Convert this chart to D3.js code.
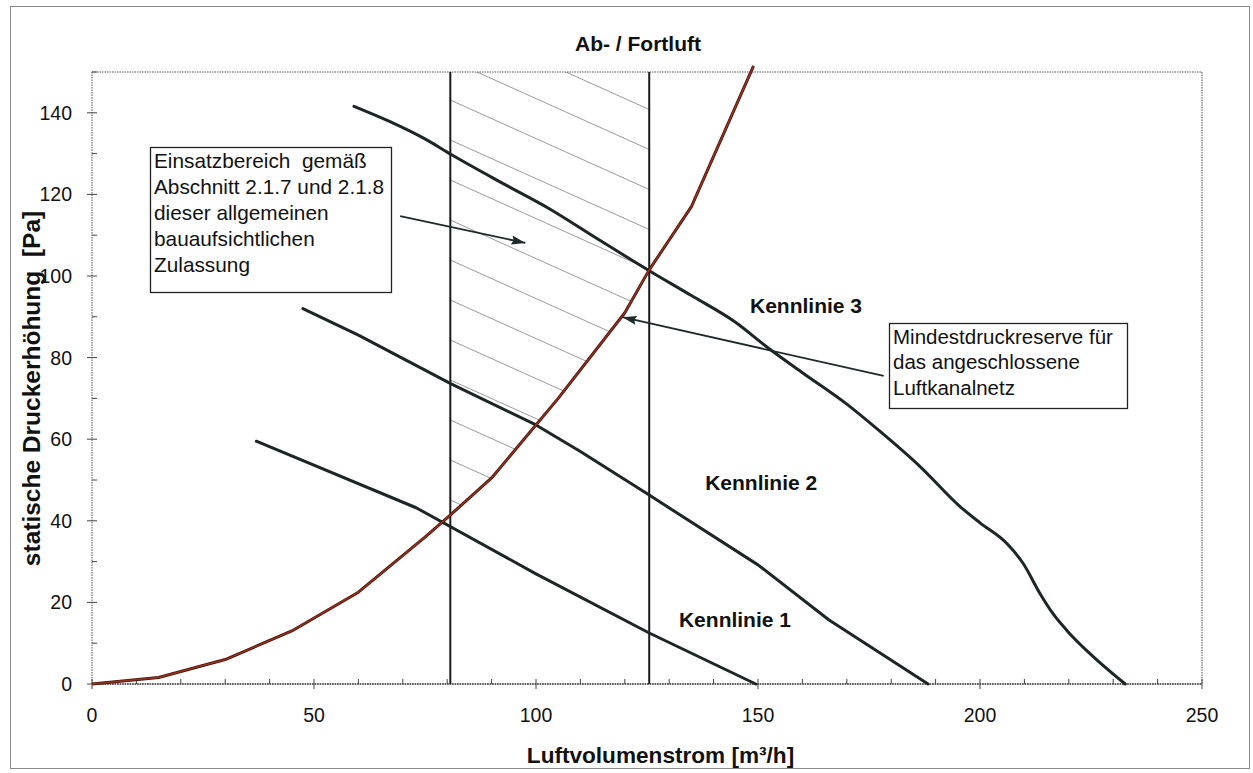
<!DOCTYPE html>
<html>
<head>
<meta charset="utf-8">
<script src="https://cdn.jsdelivr.net/npm/d3@7"></script>
<style>
  html, body { margin: 0; padding: 0; background: #fff; }
  svg { display: block; font-family: "Liberation Sans", Arial, sans-serif; }
</style>
</head>
<body>
<svg id="chart" width="1253" height="773"></svg>
<script>
// ---------- DATA ----------
const title = "Ab- / Fortluft";
const xLabel = "Luftvolumenstrom [m³/h]";
const yLabel = "statische Druckerhöhung  [Pa]";
const xTicks = [0, 50, 100, 150, 200, 250];
const yTicks = [0, 20, 40, 60, 80, 100, 120, 140];

// Anlagenkennlinie (system curve, red)
const systemX = [0, 15, 30, 45, 60, 75, 81, 90, 105, 120, 125.5, 135, 149];
const systemY = [0, 1.6, 6, 13, 22.5, 36, 41.7, 50.5, 70, 91, 101.5, 117, 151.5];

// Kennlinie 1
const k1X = [37, 73, 100, 125.5, 149.5];
const k1Y = [59.5, 43.2, 27, 12.5, 0];
// Kennlinie 2
const k2X = [47.5, 60, 81, 100, 110, 125.5, 150, 166, 188.3];
const k2Y = [92, 85.5, 73.5, 63.5, 57, 46.3, 29.2, 15.7, 0];
// Kennlinie 3
const k3X = [59, 67, 75, 81, 92, 103, 114, 125.5, 135, 145, 152, 160, 170, 177.5, 186.5, 195.5, 200, 206, 209.7, 213.5, 216.4, 219.5, 225.5, 232.7];
const k3Y = [141.6, 137.9, 133.6, 129.7, 123, 116.5, 109, 101.3, 95.2, 88.6, 82.6, 76.3, 68.6, 61.9, 53.3, 43.5, 39.5, 34.5, 29.6, 22.2, 17.3, 13.2, 6.7, 0];

const curveLabels = ["Kennlinie 1", "Kennlinie 2", "Kennlinie 3"];
const curveLabelX = [132.2, 138.1, 148.2];
const curveLabelY = [14.0, 47.5, 90.9];

// Einsatzbereich (operating range) limits
const rangeLimits = [80.7, 125.5];

const note1 = ["Einsatzbereich  gemäß", "Abschnitt 2.1.7 und 2.1.8", "dieser allgemeinen", "bauaufsichtlichen", "Zulassung"];
const note2 = ["Mindestdruckreserve für", "das angeschlossene", "Luftkanalnetz"];

// ---------- LAYOUT ----------
const svg = d3.select("#chart");
const plot = { left: 92, right: 1202, top: 72, bottom: 684 };

const x = d3.scaleLinear().domain([0, 250]).range([plot.left, plot.right]);
const y = d3.scaleLinear().domain([0, 150]).range([plot.bottom, plot.top]);

const zip = (xs, ys) => xs.map((v, i) => [v, ys[i]]);
const sysData = zip(systemX, systemY);

// outer frame
svg.append("rect")
  .attr("x", 10.5).attr("y", 6.5).attr("width", 1239).attr("height", 762)
  .attr("fill", "none").attr("stroke", "#8a8a8a").attr("stroke-width", 1);

// defs
const defs = svg.append("defs");
defs.append("marker")
  .attr("id", "arrow").attr("viewBox", "0 0 14 10")
  .attr("refX", 14).attr("refY", 5)
  .attr("markerWidth", 15).attr("markerHeight", 10)
  .attr("markerUnits", "userSpaceOnUse")
  .attr("orient", "auto")
  .append("path").attr("d", "M0,0.5 L14,5 L0,9.5 L2,5 Z").attr("fill", "#1e2a2a");

// clip for hatching: between range limits, above system curve
function sysAt(v) {
  for (let i = 0; i < sysData.length - 1; i++) {
    const [x0, y0] = sysData[i], [x1, y1] = sysData[i + 1];
    if (v >= x0 && v <= x1) return y0 + (y1 - y0) * (v - x0) / (x1 - x0);
  }
  return 0;
}
const [rL, rR] = rangeLimits;
const clipPts = [[rL, 150], [rL, sysAt(rL)]]
  .concat(sysData.filter(d => d[0] > rL && d[0] < rR))
  .concat([[rR, sysAt(rR)], [rR, 150]]);
defs.append("clipPath").attr("id", "hatchClip")
  .append("path")
  .attr("d", d3.line().x(d => x(d[0])).y(d => y(d[1]))(clipPts) + "Z");

// hatching
const hatch = svg.append("g").attr("clip-path", "url(#hatchClip)");
const hx0 = x(rL), hx1 = x(rR), slope = 0.45, spacing = 40;
for (let k = -4; k < 18; k++) {
  const y0 = plot.top + 28 + k * spacing;
  hatch.append("line")
    .attr("x1", hx0).attr("y1", y0)
    .attr("x2", hx1).attr("y2", y0 + slope * (hx1 - hx0))
    .attr("stroke", "#9a9a9a").attr("stroke-width", 1);
}

// plot border (dotted)
svg.append("rect")
  .attr("x", plot.left).attr("y", plot.top)
  .attr("width", plot.right - plot.left).attr("height", plot.bottom - plot.top)
  .attr("fill", "none").attr("stroke", "#555").attr("stroke-width", 1)
  .attr("stroke-dasharray", "1.5,1");

// axes
const axisColor = "#444";
const xAxis = svg.append("g").attr("transform", `translate(0,${plot.bottom})`);
xAxis.append("line").attr("x1", plot.left).attr("x2", plot.right)
  .attr("stroke", axisColor).attr("stroke-width", 1.5).attr("stroke-dasharray", "1.5,1");
xAxis.selectAll(".minor").data(d3.range(0, 251, 10)).join("line")
  .attr("x1", d => x(d)).attr("x2", d => x(d))
  .attr("y1", d => d % 50 === 0 ? 5 : 0).attr("y2", -5)
  .attr("stroke", axisColor).attr("stroke-width", 1);
xAxis.selectAll(".lbl").data(xTicks).join("text")
  .attr("x", d => x(d)).attr("y", 38)
  .attr("text-anchor", "middle").attr("font-size", 19.5).attr("fill", "#111")
  .text(d => d);

const yAxis = svg.append("g").attr("transform", `translate(${plot.left},0)`);
yAxis.selectAll(".minor").data(d3.range(0, 151, 10)).join("line")
  .attr("y1", d => y(d)).attr("y2", d => y(d))
  .attr("x1", d => d % 20 === 0 ? -5 : 0).attr("x2", 5)
  .attr("stroke", axisColor).attr("stroke-width", 1);
yAxis.selectAll(".lbl").data(yTicks).join("text")
  .attr("x", -20).attr("y", d => y(d)).attr("dy", "0.36em")
  .attr("text-anchor", "end").attr("font-size", 19.5).attr("fill", "#111")
  .text(d => d);

// axis titles + title
svg.append("text").attr("x", 638).attr("y", 51)
  .attr("text-anchor", "middle").attr("font-size", 21).attr("font-weight", "bold")
  .attr("fill", "#111").text(title);
svg.append("text").attr("x", 660.5).attr("y", 763)
  .attr("text-anchor", "middle").attr("font-size", 22.6).attr("font-weight", "bold")
  .attr("fill", "#111").text(xLabel);
svg.append("text")
  .attr("transform", "translate(40,388.5) rotate(-90)")
  .attr("text-anchor", "middle").attr("font-size", 24.5).attr("font-weight", "bold")
  .attr("fill", "#111").style("white-space", "pre").text(yLabel);

// range limits (vertical lines)
svg.selectAll(".limit").data(rangeLimits).join("line")
  .attr("x1", d => x(d)).attr("x2", d => x(d))
  .attr("y1", y(0)).attr("y2", y(150))
  .attr("stroke", "#1a1a1a").attr("stroke-width", 2);

// Kennlinien
const line = d3.line().x(d => x(d[0])).y(d => y(d[1]));
const smooth = d3.line().x(d => x(d[0])).y(d => y(d[1])).curve(d3.curveMonotoneX);
[zip(k1X, k1Y), zip(k2X, k2Y)].forEach(data => {
  svg.append("path").attr("d", line(data))
    .attr("fill", "none").attr("stroke", "#1c2626").attr("stroke-width", 3)
    .attr("stroke-linejoin", "round").attr("stroke-linecap", "round");
});
svg.append("path").attr("d", smooth(zip(k3X, k3Y)))
  .attr("fill", "none").attr("stroke", "#1c2626").attr("stroke-width", 3)
  .attr("stroke-linejoin", "round").attr("stroke-linecap", "round");

// system curve
svg.append("path").attr("d", line(sysData))
  .attr("fill", "none").attr("stroke", "#4a140c").attr("stroke-width", 3)
  .attr("stroke-linejoin", "round");
svg.append("path").attr("d", line(sysData))
  .attr("fill", "none").attr("stroke", "#94321f").attr("stroke-width", 1.4)
  .attr("stroke-linejoin", "round");

// curve labels
svg.selectAll(".clbl").data(curveLabels).join("text")
  .attr("x", (d, i) => x(curveLabelX[i])).attr("y", (d, i) => y(curveLabelY[i]))
  .attr("text-anchor", "start")
  .attr("font-size", 21).attr("font-weight", "bold").attr("fill", "#111")
  .text(d => d);

// annotation boxes
function noteBox(lines, bx, by, bw, bh, lh, fs) {
  const g = svg.append("g");
  g.append("rect").attr("x", bx + 0.5).attr("y", by + 0.5).attr("width", bw).attr("height", bh)
    .attr("fill", "#fff").attr("stroke", "#222").attr("stroke-width", 1.3);
  g.selectAll("text").data(lines).join("text")
    .attr("x", bx + 4).attr("y", (d, i) => by + 20.5 + i * lh)
    .attr("font-size", fs).attr("fill", "#111").style("white-space", "pre")
    .text(d => d);
}
noteBox(note1, 150, 147, 241, 145, 26, 20.8);
noteBox(note2, 889, 323, 238, 85, 25.5, 20.5);

// arrows
const arrows = [
  [[69.4, 114.7], [97.6, 108.1]],
  [[178.3, 75.5], [119.5, 89.9]]
];
arrows.forEach(([a, b]) => {
  svg.append("line")
    .attr("x1", x(a[0])).attr("y1", y(a[1]))
    .attr("x2", x(b[0])).attr("y2", y(b[1]))
    .attr("stroke", "#1e2a2a").attr("stroke-width", 1.8)
    .attr("marker-end", "url(#arrow)");
});
</script>
</body>
</html>
